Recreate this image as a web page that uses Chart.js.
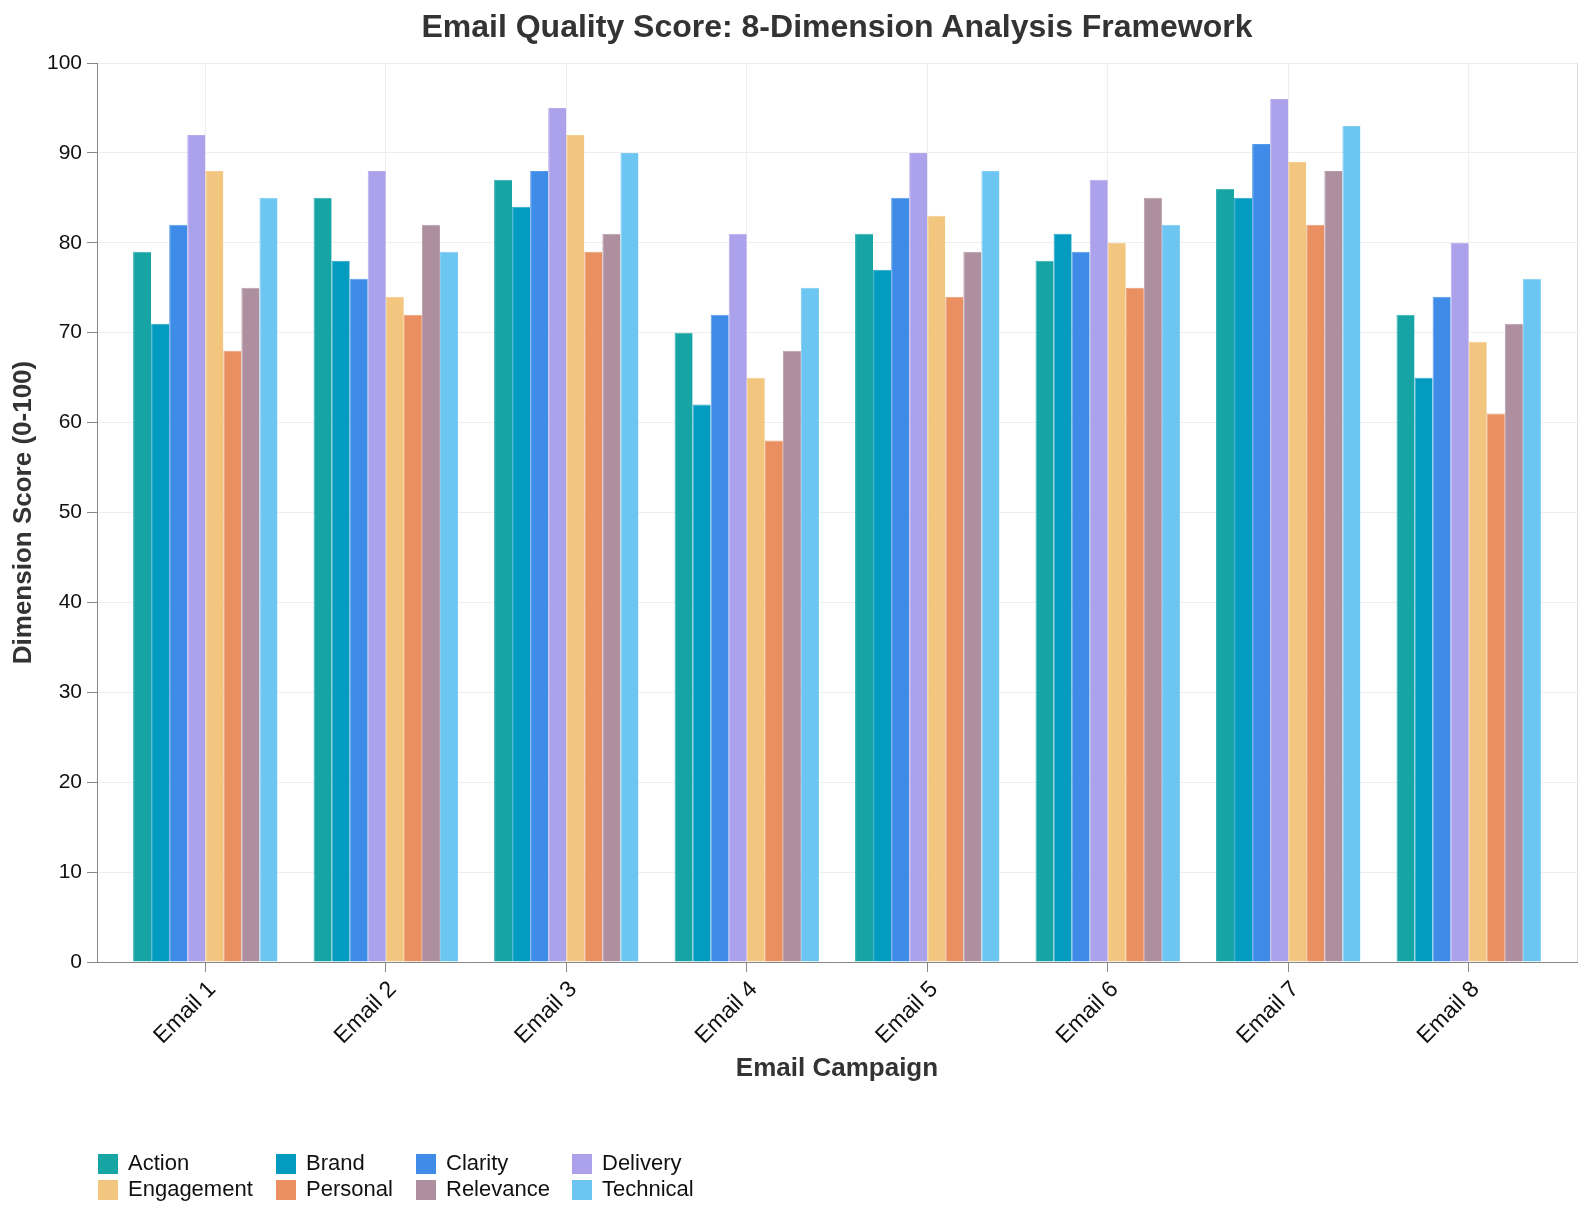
<!DOCTYPE html>
<html>
<head>
<meta charset="utf-8">
<script src="https://cdn.jsdelivr.net/npm/chart.js@4.4.1/dist/chart.umd.min.js"></script>
<style>
  html, body { margin: 0; padding: 0; background: #ffffff; }
  #wrap { position: relative; width: 1586px; height: 1210px; overflow: hidden;
          font-family: "Liberation Sans", Arial, sans-serif; }
  #chart { position: absolute; left: 0; top: 0; }
  #title { position: absolute; left: 337px; top: 8px; width: 1000px; text-align: center;
           font-size: 32px; line-height: 36px; font-weight: bold; color: #333333; white-space: nowrap; }
  #legend { position: absolute; left: 98px; top: 1154px; display: grid;
            grid-template-columns: 178px 140px 156px auto; row-gap: 6px; }
  .item { display: flex; align-items: center; height: 20px; }
  .sw { width: 20px; height: 20px; margin-right: 10px; flex: none; }
  .lb { font-size: 22px; line-height: 20px; color: #111111; position: relative; top: -1px; white-space: nowrap; }
</style>
</head>
<body>
<div id="wrap">
  <canvas id="chart" width="1586" height="1210"></canvas>
  <div id="title">Email Quality Score: 8-Dimension Analysis Framework</div>
  <div id="legend"></div>
</div>
<script>
// ---- data ----
const categories = ["Email 1", "Email 2", "Email 3", "Email 4", "Email 5", "Email 6", "Email 7", "Email 8"];
const seriesNames = ["Action", "Brand", "Clarity", "Delivery", "Engagement", "Personal", "Relevance", "Technical"];
const action     = [79, 85, 87, 70, 81, 78, 86, 72];
const brand      = [71, 78, 84, 62, 77, 81, 85, 65];
const clarity    = [82, 76, 88, 72, 85, 79, 91, 74];
const delivery   = [92, 88, 95, 81, 90, 87, 96, 80];
const engagement = [88, 74, 92, 65, 83, 80, 89, 69];
const personal   = [68, 72, 79, 58, 74, 75, 82, 61];
const relevance  = [75, 82, 81, 68, 79, 85, 88, 71];
const technical  = [85, 79, 90, 75, 88, 82, 93, 76];
const yTicks = [0, 10, 20, 30, 40, 50, 60, 70, 80, 90, 100];

// ---- styles ----
const seriesColors = ["#17a4a5", "#049bc0", "#3e8ce8", "#aca1eb", "#f3c680", "#ea8f5f", "#ae8f9f", "#6dc5f2"];
const FONT = "'Liberation Sans', Arial, sans-serif";

function lighten(hex, t) {
  const n = parseInt(hex.slice(1), 16);
  const r = (n >> 16) & 255, g = (n >> 8) & 255, b = n & 255;
  const m = (c) => Math.round(c + (255 - c) * t);
  return `rgb(${m(r)},${m(g)},${m(b)})`;
}

const seriesValues = [action, brand, clarity, delivery, engagement, personal, relevance, technical];

const datasets = seriesNames.map((name, s) => ({
  label: name,
  data: seriesValues[s].map((v, i) => ({ x: i, y: v })),
  backgroundColor: seriesColors[s],
  borderColor: lighten(seriesColors[s], 0.12),
  borderWidth: { left: 1, right: 0, top: 1, bottom: 0 },
  borderSkipped: 'bottom',
  categoryPercentage: 0.8,
  barPercentage: 1.0
}));

// legend (HTML, real text)
const legendEl = document.getElementById('legend');
seriesNames.forEach((name, s) => {
  const it = document.createElement('div');
  it.className = 'item';
  const sw = document.createElement('div');
  sw.className = 'sw';
  sw.style.background = seriesColors[s];
  const lb = document.createElement('span');
  lb.className = 'lb';
  lb.textContent = name;
  it.appendChild(sw); it.appendChild(lb);
  legendEl.appendChild(it);
});

const rightBorder = {
  id: 'rightBorder',
  beforeDatasetsDraw(chart) {
    const { ctx, chartArea } = chart;
    ctx.save();
    ctx.strokeStyle = '#dddddd';
    ctx.lineWidth = 1;
    ctx.beginPath();
    ctx.moveTo(Math.round(chartArea.right) + 0.5, chartArea.top);
    ctx.lineTo(Math.round(chartArea.right) + 0.5, chartArea.bottom);
    ctx.stroke();
    ctx.restore();
  }
};

new Chart(document.getElementById('chart'), {
  type: 'bar',
  data: { datasets },
  plugins: [rightBorder],
  options: {
    responsive: false,
    devicePixelRatio: 1,
    animation: false,
    layout: { padding: { top: 63, left: 0, right: 9, bottom: 118 } },
    plugins: { legend: { display: false }, title: { display: false }, tooltip: { enabled: false } },
    scales: {
      x: {
        type: 'linear',
        min: -0.6,
        max: categories.length - 1 + 0.6,
        offset: false,
        afterBuildTicks: (scale) => { scale.ticks = categories.map((c, i) => ({ value: i })); },
        afterFit: (scale) => { scale.height = 130; },
        grid: { offset: false, color: '#eeeeee', tickColor: '#888888', tickLength: 10, lineWidth: 1 },
        border: { display: true, color: '#888888', width: 1 },
        ticks: {
          autoSkip: false, minRotation: 45, maxRotation: 45, padding: 4, labelOffset: 7,
          color: '#111111', font: { family: FONT, size: 23 },
          callback: (v) => categories[v]
        },
        title: { display: true, text: 'Email Campaign', color: '#333333',
                 font: { family: FONT, size: 26, weight: 'bold' }, padding: { top: 0, bottom: 8 } }
      },
      y: {
        min: yTicks[0],
        max: yTicks[yTicks.length - 1],
        afterBuildTicks: (scale) => { scale.ticks = yTicks.map(v => ({ value: v })); },
        afterFit: (scale) => { scale.width = 97; },
        grid: { color: '#eeeeee', tickColor: '#888888', tickLength: 10, lineWidth: 1 },
        border: { display: true, color: '#888888', width: 1 },
        ticks: { padding: 5, color: '#111111', font: { family: FONT, size: 21 } },
        title: { display: true, text: 'Dimension Score (0-100)', color: '#333333',
                 font: { family: FONT, size: 26, weight: 'bold' }, padding: { top: 8, bottom: 0 } }
      }
    }
  }
});
</script>
</body>
</html>
